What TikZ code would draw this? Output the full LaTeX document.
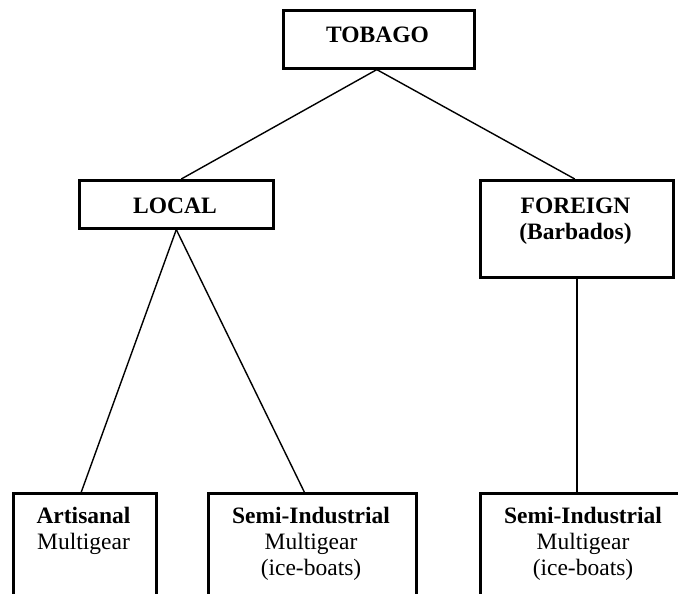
\documentclass[tikz,border=0pt]{standalone}
\usepackage{fontspec}
\setmainfont{Liberation Serif}
\begin{document}
\begin{tikzpicture}[x=1pt,y=-1pt,
  box/.style={draw=black, line width=2.6pt, inner sep=0pt, anchor=north west},
  conn/.style={draw=black, line width=1.4pt},
  txt/.style={inner sep=0pt, anchor=base, font=\fontsize{23.5}{26}\selectfont},
  btxt/.style={txt, font=\fontsize{23.5}{26}\selectfont\bfseries}]
\useasboundingbox (0,0) rectangle (678,594);
\clip (0,0) rectangle (678,594);
% boxes
\node[box, minimum width=191pt, minimum height=58pt] (tob) at (282,9) {};
\node[box, minimum width=194pt, minimum height=48pt] (loc) at (78,179) {};
\node[box, minimum width=193pt, minimum height=97pt] (for) at (479,179) {};
\node[box, minimum width=143pt, minimum height=140pt] (b1) at (12,492) {};
\node[box, minimum width=208pt, minimum height=140pt] (b2) at (207,492) {};
\node[box, minimum width=208pt, minimum height=140pt] (b3) at (479,492) {};
% texts
\node[btxt] (tobt) at (377.5,43) {TOBAGO};
\node[btxt] (loct) at (175,213) {LOCAL};
\node[btxt] (fort1) at (575.5,213) {FOREIGN};
\node[btxt] (fort2) at (575.5,239) {(Barbados)};
\node[btxt] (b1t1) at (83.5,523) {Artisanal};
\node[txt] (b1t2) at (83.5,549) {Multigear};
\node[btxt] (b2t1) at (311,523) {Semi-Industrial};
\node[txt] (b2t2) at (311,549) {Multigear};
\node[txt] (b2t3) at (311,575) {(ice-boats)};
\node[btxt] (b3t1) at (583,523) {Semi-Industrial};
\node[txt] (b3t2) at (583,549) {Multigear};
\node[txt] (b3t3) at (583,575) {(ice-boats)};
% connectors
\draw[conn] ([xshift=-2pt]tob.south) -- ([xshift=5pt]loc.north);
\draw[conn] ([xshift=-2pt]tob.south) -- ([xshift=-2pt]for.north);
\draw[conn] (loc.south) -- ([xshift=-3.5pt]b1.north);
\draw[conn] (loc.south) -- ([xshift=-8pt]b2.north);
\draw[conn] (for.south) -- (for.south |- b3.north);
\end{tikzpicture}
\end{document}
